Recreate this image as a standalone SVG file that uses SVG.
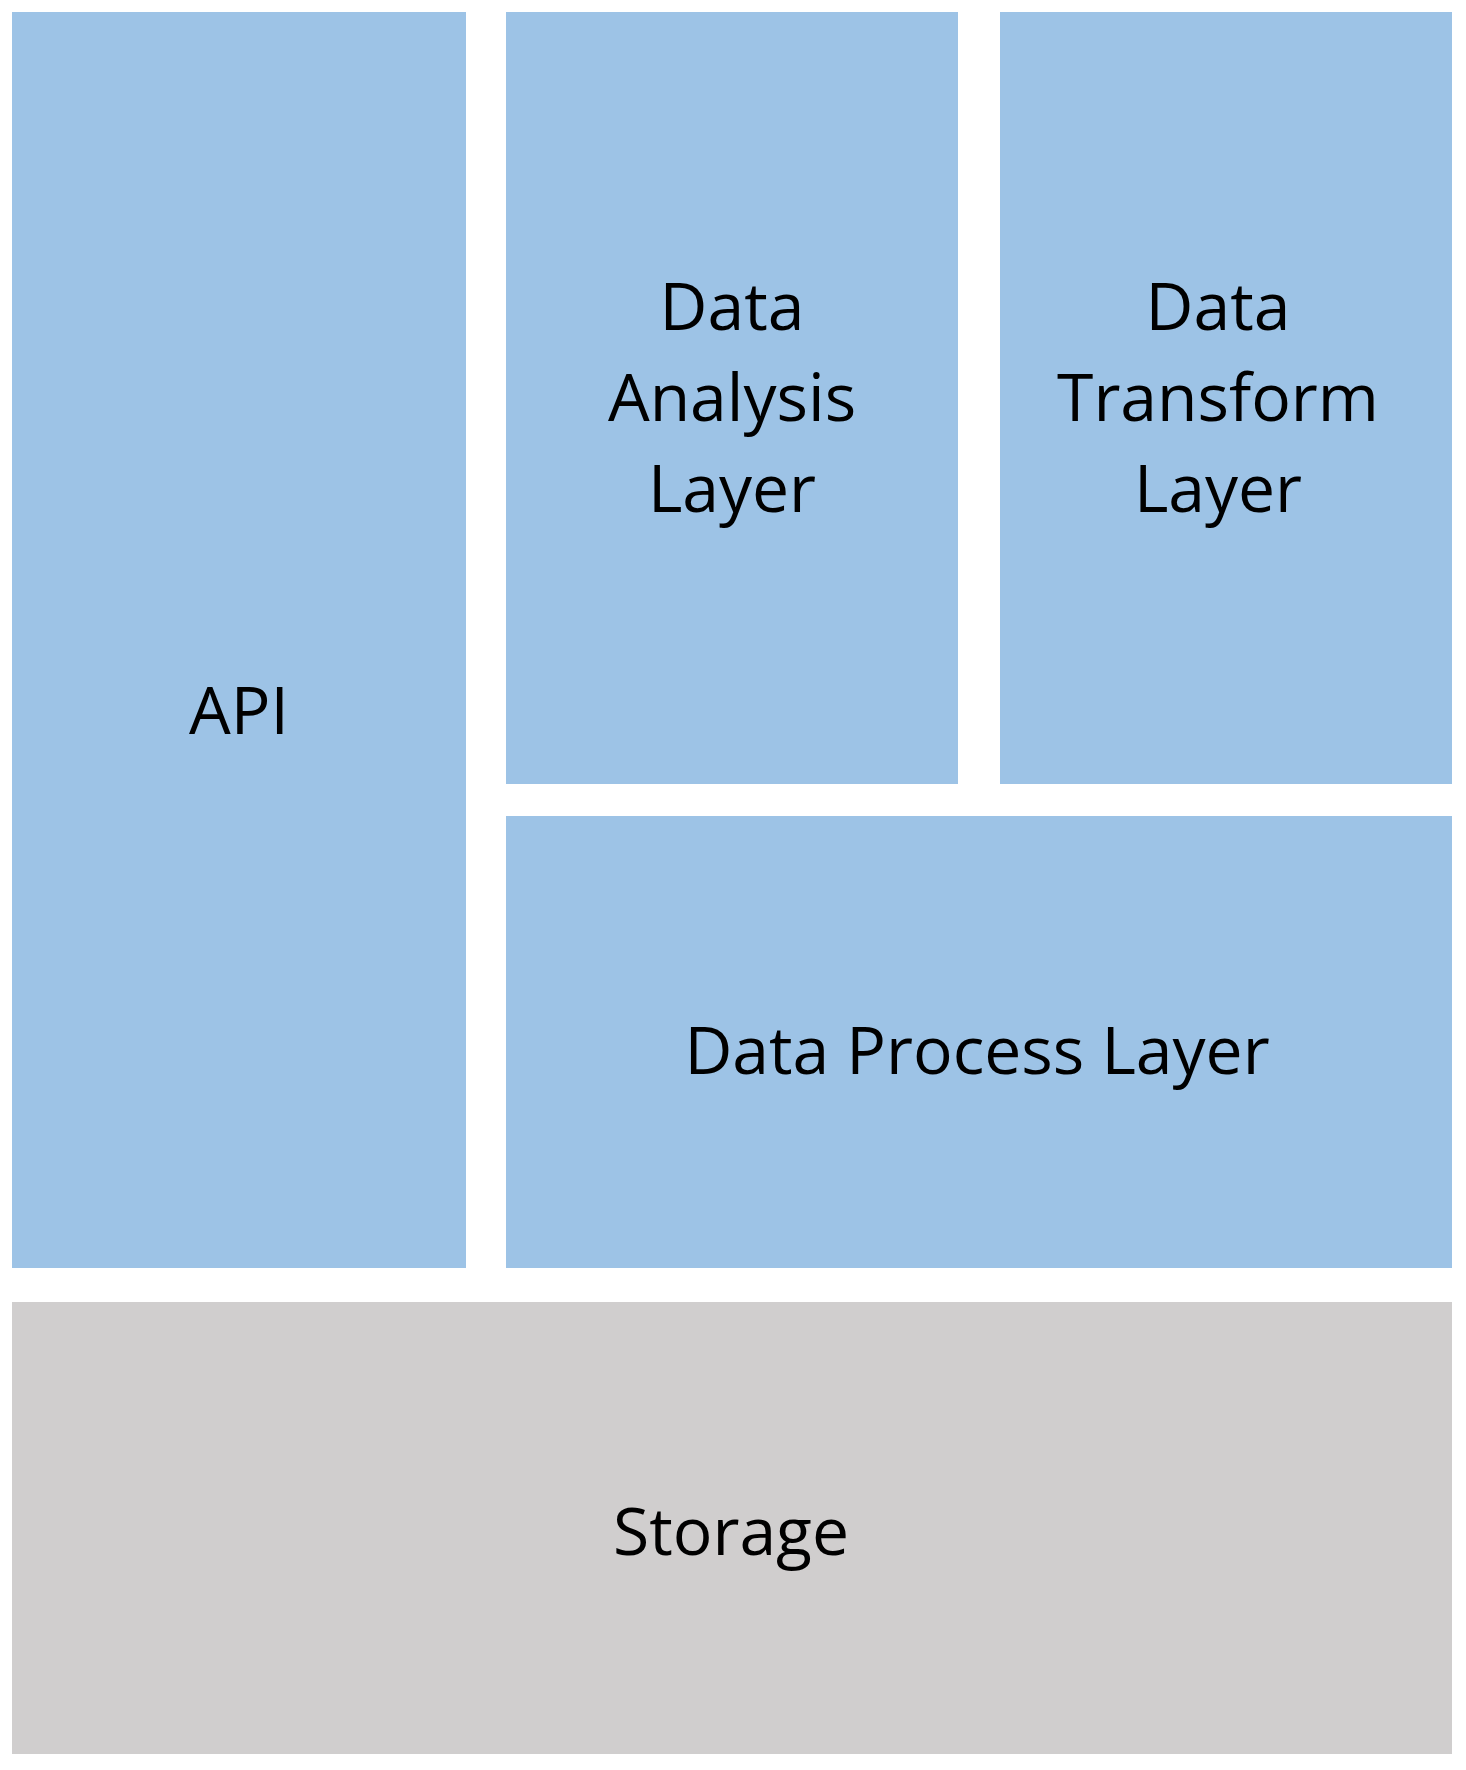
<svg xmlns="http://www.w3.org/2000/svg" width="1466" height="1770" viewBox="0 0 1466 1770">
<style>
.b{fill:#9DC3E6}
.g{fill:#D0CECE}
text{font-family:"Open Sans","Liberation Sans",sans-serif;font-size:66px;fill:#000;text-anchor:middle}
</style>
<rect width="1466" height="1770" fill="#fff"/>
<g id="api"><rect class="b" x="12" y="12" width="454" height="1256"/><text x="239" y="734">API</text></g>
<g id="analysis"><rect class="b" x="506" y="12" width="452" height="772"/><text x="732" y="330">Data</text><text x="732" y="421">Analysis</text><text x="732" y="512">Layer</text></g>
<g id="transform"><rect class="b" x="1000" y="12" width="452" height="772"/><text x="1218" y="330">Data</text><text x="1218" y="421">Transform</text><text x="1218" y="512">Layer</text></g>
<g id="process"><rect class="b" x="506" y="816" width="946" height="452"/><text x="977" y="1074">Data Process Layer</text></g>
<g id="storage"><rect class="g" x="12" y="1302" width="1440" height="452"/><text x="731" y="1555">Storage</text></g>
<g id="connectors"/>
</svg>
